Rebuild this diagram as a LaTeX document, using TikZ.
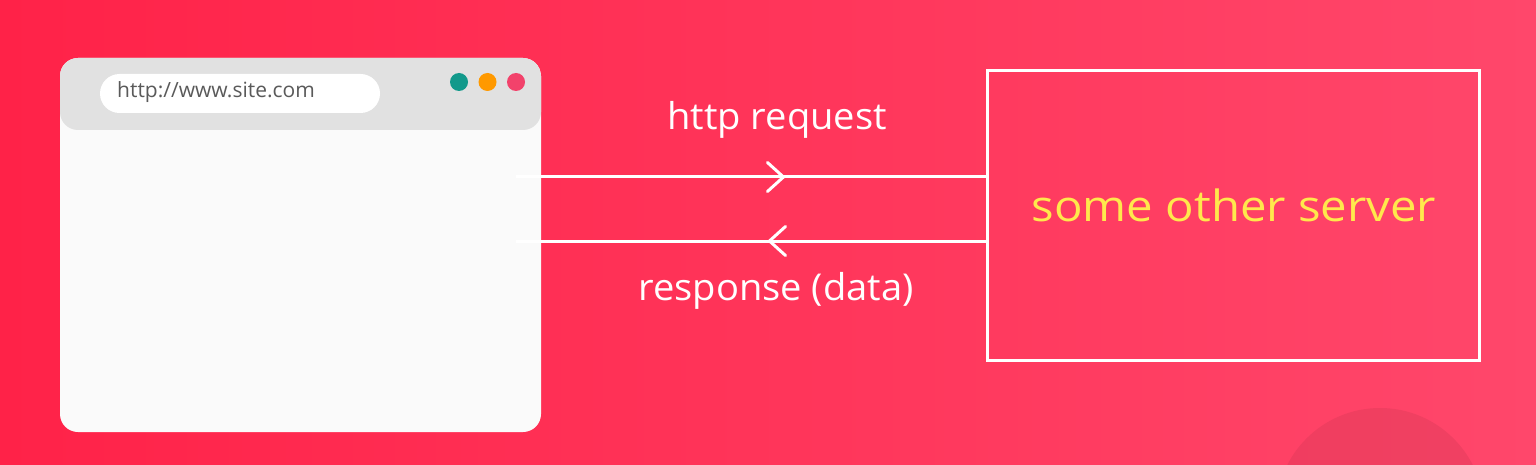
\documentclass[tikz,border=0pt]{standalone}
\usepackage{fontspec}
\setmainfont{Open Sans}
\usetikzlibrary{positioning,arrows.meta,decorations.markings}

\definecolor{bgleft}{HTML}{FF2248}
\definecolor{bgright}{HTML}{FF476B}
\definecolor{bargray}{HTML}{E1E1E1}
\definecolor{pagewhite}{HTML}{FAFAFA}
\definecolor{urlgray}{HTML}{5A5A5A}
\definecolor{dotteal}{HTML}{12998B}
\definecolor{dotorange}{HTML}{FF9900}
\definecolor{dotpink}{HTML}{F2426B}
\definecolor{srvyellow}{HTML}{FFE84C}

\tikzset{
    browser/.style={rectangle, rounded corners=18pt, fill=pagewhite, minimum width=481pt, minimum height=374pt, inner sep=0pt, outer sep=0pt},
    addrbar/.style={rectangle, rounded corners=19.5pt, fill=white, minimum width=280pt, minimum height=39pt, inner sep=0pt},
    wdot/.style={circle, minimum size=18pt, inner sep=0pt, outer sep=0pt},
    serverbox/.style={rectangle, draw=white, line width=3pt, minimum width=492pt, minimum height=289pt, inner sep=0pt, outer sep=0pt},
    wire/.style={draw=white, line width=3pt},
    msgtext/.style={text=white, inner sep=0pt, font=\fontsize{37}{43}\selectfont\addfontfeature{FakeStretch=1.03}},
    chevron/.tip={Straight Barb[length=16pt, width=29pt, round]}
}

\begin{document}
\begin{tikzpicture}[x=1pt, y=-1pt]
        \useasboundingbox (0,0) rectangle (1536,465);
        \shade[left color=bgleft, right color=bgright] (0,0) rectangle (1536,465);
        \begin{scope}
            \clip (0,0) rectangle (1536,465);
            \fill[black, opacity=0.06] (1380,512) circle (104);
        \end{scope}

        \node[browser, path picture={\fill[bargray] (path picture bounding box.north west) rectangle ([yshift=-72pt]path picture bounding box.north east);}] (browser) at (300.5,245) {};
        \node[addrbar] (addr) at (240,93.5) {};
        \node[anchor=base west, inner sep=0pt, text=urlgray, font=\fontsize{21}{25}\selectfont] (url) at (117,98) {http://www.site.com};
        \node[wdot, fill=dotteal] (d1) at (459,82) {};
        \node[wdot, fill=dotorange, right=10.5pt of d1] (d2) {};
        \node[wdot, fill=dotpink, right=10.5pt of d2] (d3) {};

        \node[serverbox] (server) at (1233,215.5) {};
        \node[anchor=base, inner sep=0pt, text=srvyellow, font=\fontsize{43}{49}\selectfont\addfontfeature{FakeStretch=1.1}] (srvname) at (1234,222) {some other server};

        \coordinate (reqstart) at (516,177);
        \coordinate (resend) at (516,241);
        \draw[wire, postaction={decorate}, decoration={markings, mark=at position 0.571 with {\arrow[white]{chevron}}}] (reqstart) -- (server.west |- reqstart);
        \draw[wire, postaction={decorate}, decoration={markings, mark=at position 0.465 with {\arrow[white]{chevron}}}] (server.west |- resend) -- (resend);

        \node[msgtext, anchor=base] (reqlabel) at (777,130) {http request};
        \node[msgtext, anchor=base] (reslabel) at (776,300) {response (data)};
\end{tikzpicture}
\end{document}
